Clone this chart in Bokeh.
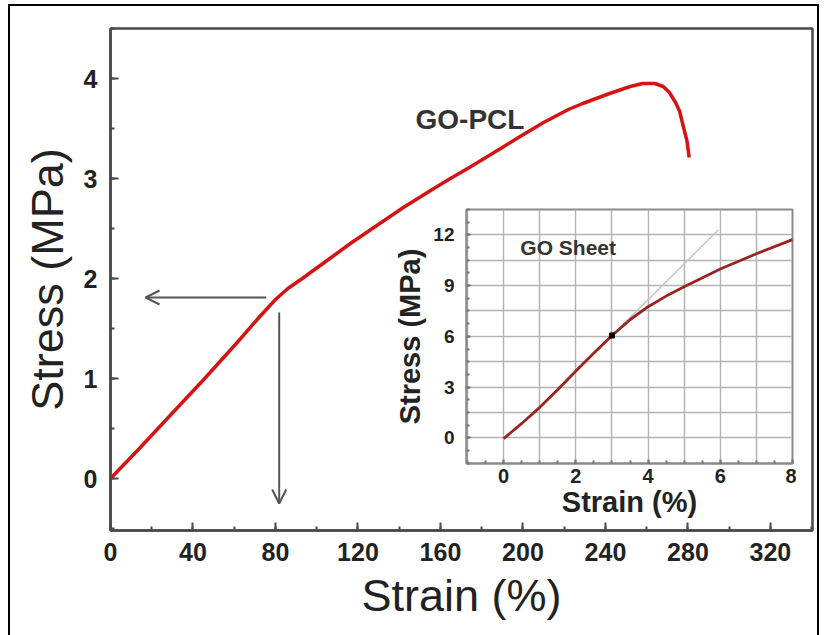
from bokeh.plotting import figure
from bokeh.layouts import column
from bokeh.models import Range1d, SingleIntervalTicker, Arrow, OpenHead, Label
from bokeh.embed import file_html
from bokeh.resources import INLINE

# ---------------- data ----------------
# Main curve: GO-PCL stress-strain
pcl_strain = [0, 14, 28, 45, 61, 72, 80, 86, 93, 105, 117, 132, 142, 156, 164, 174, 190,
              197, 210, 222, 229, 242, 252, 258, 264, 268, 271, 274, 276, 278, 279.5, 280.6]
pcl_stress = [0, 0.30, 0.61, 0.985, 1.35, 1.61, 1.79, 1.90, 2.00, 2.18, 2.36, 2.57, 2.71,
              2.89, 2.99, 3.11, 3.31, 3.40, 3.56, 3.69, 3.75, 3.85, 3.92, 3.95, 3.95, 3.92,
              3.86, 3.76, 3.67, 3.50, 3.38, 3.21]

# Inset: GO sheet
go_strain = [0, 0.5, 1, 1.5, 2, 2.5, 3, 3.5, 4, 4.5, 5, 6, 7, 8]
go_stress = [-0.05, 0.85, 1.8, 2.85, 3.95, 5.02, 6.05, 6.98, 7.75, 8.38, 8.93, 9.98, 10.88, 11.72]

# tangent (linear-elastic) line on the inset and its marked point
tangent_strain = [3.0, 5.95]
tangent_stress = [6.05, 12.3]
mark_strain = [3.0]
mark_stress = [6.05]

# arrows on the main chart (strain, stress)
harrow = dict(x_start=75.5, y_start=1.81, x_end=17.0, y_end=1.81)
varrow = dict(x_start=81.8, y_start=1.66, x_end=81.8, y_end=-0.25)

FONT = "Liberation Sans"
TXT = "#222222"
AX = "#4a4a4a"

# ---------------- main figure ----------------
p = figure(output_backend="svg", toolbar_location=None,
           frame_width=702, frame_height=502,
           min_border_left=98, min_border_top=22, min_border_right=7, min_border_bottom=105,
           x_range=Range1d(0, 340.4), y_range=Range1d(-0.52, 4.5))
p.background_fill_color = "white"
p.border_fill_color = "white"
p.outline_line_color = AX
p.outline_line_width = 2.5
p.xgrid.visible = False
p.ygrid.visible = False

p.xaxis.ticker = SingleIntervalTicker(interval=40, num_minor_ticks=2)
p.yaxis.ticker = SingleIntervalTicker(interval=1, num_minor_ticks=2)
for ax in (p.xaxis[0], p.yaxis[0]):
    ax.axis_line_color = AX
    ax.axis_line_width = 2.5
    ax.major_tick_line_color = AX
    ax.major_tick_line_width = 2
    ax.minor_tick_line_color = AX
    ax.minor_tick_line_width = 2
    ax.major_tick_in = 8
    ax.major_tick_out = 0
    ax.minor_tick_in = 4
    ax.minor_tick_out = 0
    ax.major_label_text_font = FONT
    ax.major_label_text_font_style = "bold"
    ax.major_label_text_font_size = "25px"
    ax.major_label_text_color = TXT
    ax.axis_label_text_font = FONT
    ax.axis_label_text_font_style = "normal"
    ax.axis_label_text_font_size = "45px"
    ax.axis_label_text_color = TXT
p.xaxis.axis_label = "Strain (%)"
p.yaxis.axis_label = "Stress (MPa)"
p.xaxis.major_label_standoff = 12
p.yaxis.major_label_standoff = 13
p.xaxis.axis_label_standoff = 6
p.yaxis.axis_label_standoff = 8

p.line(pcl_strain, pcl_stress, line_color="#d41414", line_width=3.5, line_join="round")

p.add_layout(Label(x=147.9, y=3.59, text="GO-PCL", text_font=FONT, text_font_style="bold",
                   text_font_size="28px", text_color="#333333", text_baseline="middle",
                   text_align="left"))
p.add_layout(Arrow(end=OpenHead(size=14, line_color="#555555", line_width=2),
                   line_color="#555555", line_width=2, **harrow))
p.add_layout(Arrow(end=OpenHead(size=14, line_color="#555555", line_width=2),
                   line_color="#555555", line_width=2, **varrow))

# ---------------- inset figure ----------------
q = figure(output_backend="svg", toolbar_location=None,
           frame_width=326, frame_height=254,
           min_border_left=100, min_border_top=4, min_border_right=4, min_border_bottom=70,
           x_range=Range1d(-1.03, 8.0), y_range=Range1d(-1.52, 13.5),
           styles={"position": "absolute", "left": "356px", "top": "199px"})
q.background_fill_color = "white"
q.border_fill_alpha = 0
q.outline_line_color = "#8a8a8a"
q.outline_line_width = 2

q.xaxis.ticker = SingleIntervalTicker(interval=2, num_minor_ticks=4)
q.yaxis.ticker = SingleIntervalTicker(interval=3, num_minor_ticks=4)
q.xgrid.ticker = SingleIntervalTicker(interval=1)
q.ygrid.ticker = SingleIntervalTicker(interval=1.5)
for g in (q.xgrid[0], q.ygrid[0]):
    g.grid_line_color = "#b4b4b4"
    g.grid_line_width = 1.5
for ax in (q.xaxis[0], q.yaxis[0]):
    ax.axis_line_color = "#8a8a8a"
    ax.axis_line_width = 2
    ax.major_tick_line_color = "#777777"
    ax.minor_tick_line_color = "#777777"
    ax.major_tick_line_width = 2
    ax.minor_tick_line_width = 2
    ax.major_tick_in = 4
    ax.major_tick_out = 0
    ax.minor_tick_in = 3
    ax.minor_tick_out = 0
    ax.major_label_text_font = FONT
    ax.major_label_text_font_style = "bold"
    ax.major_label_text_color = TXT
    ax.axis_label_text_font = FONT
    ax.axis_label_text_font_style = "bold"
    ax.axis_label_text_font_size = "29px"
    ax.axis_label_text_color = TXT
q.xaxis.major_label_text_font_size = "20px"
q.yaxis.major_label_text_font_size = "19px"
q.xaxis.axis_label = "Strain (%)"
q.yaxis.axis_label = "Stress (MPa)"
q.xaxis.major_label_standoff = 5
q.yaxis.major_label_standoff = 12
q.xaxis.axis_label_standoff = 0
q.yaxis.axis_label_standoff = 4

q.line(tangent_strain, tangent_stress, line_color="#c4c4c4", line_width=1.5)
q.line(go_strain, go_stress, line_color="#9a2424", line_width=2.8, line_join="round")
q.scatter(mark_strain, mark_stress, marker="square", size=5, color="black")
q.add_layout(Label(x=0.46, y=11.24, text="GO Sheet", text_font=FONT, text_font_style="bold",
                   text_font_size="21px", text_color="#333333", text_baseline="middle",
                   text_align="left"))

layout = column(p, q, styles={"position": "relative",
                              "border-top": "2px solid black",
                              "border-left": "2px solid black",
                              "border-right": "2px solid black",
                              "margin-top": "4px",
                              "margin-left": "8px"})

open("out.html", "w").write(file_html(layout, INLINE))
